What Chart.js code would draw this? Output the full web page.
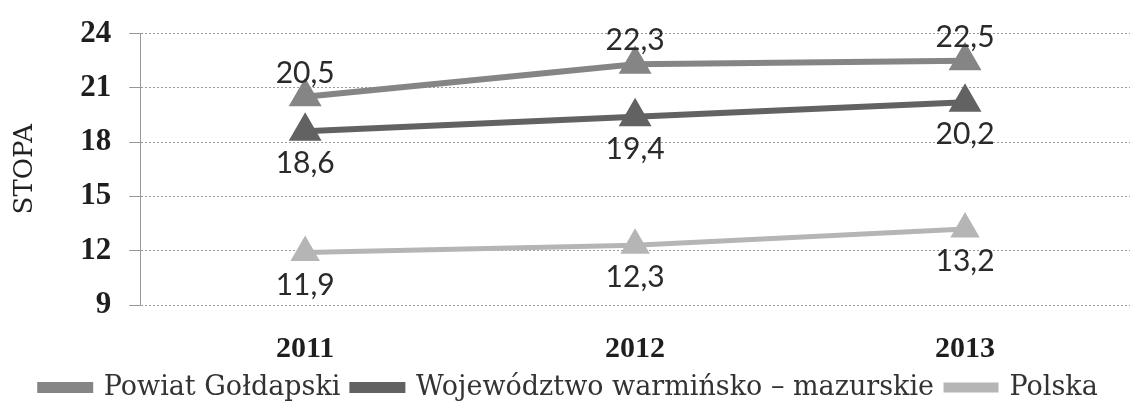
<!DOCTYPE html>
<html>
<head>
<meta charset="utf-8">
<script src="https://cdn.jsdelivr.net/npm/chart.js@4/dist/chart.umd.min.js"></script>
<style>
  html, body { margin: 0; padding: 0; background: #fff; }
  #wrap { width: 1137px; height: 403px; }
</style>
</head>
<body>
<div id="wrap"><canvas id="myChart" width="1137" height="403"></canvas></div>
<script>
const years = ["2011", "2012", "2013"];
const powiat = [20.5, 22.3, 22.5];
const wojewodztwo = [18.6, 19.4, 20.2];
const polska = [11.9, 12.3, 13.2];
const yTicks = [9, 12, 15, 18, 21, 24];

// where each series puts its value labels
const labelPos = ["above", "below", "below"];

const pointLabels = {
  id: "pointLabels",
  afterDatasetsDraw(chart) {
    const ctx = chart.ctx;
    ctx.save();
    ctx.font = "30px Lato";
    ctx.fillStyle = "#2a2a2a";
    ctx.textAlign = "center";
    ctx.textBaseline = "alphabetic";
    chart.data.datasets.forEach((ds, i) => {
      const meta = chart.getDatasetMeta(i);
      meta.data.forEach((pt, j) => {
        let txt = ds.data[j].toFixed(1).replace(".", ",");
        if (labelPos[i] == "above") {
          ctx.fillText(txt, pt.x, pt.y - 14);
        } else {
          ctx.fillText(txt, pt.x, pt.y + 42);
        }
      });
    });
    ctx.restore();
  }
};

new Chart(document.getElementById("myChart"), {
  type: "line",
  data: {
    labels: years,
    datasets: [
      {
        label: "Powiat Gołdapski",
        data: powiat,
        borderColor: "#858585",
        backgroundColor: "#858585",
        borderWidth: 6,
        pointStyle: "triangle",
        pointRadius: 13,
      },
      {
        label: "Województwo warmińsko – mazurskie",
        data: wojewodztwo,
        borderColor: "#626262",
        backgroundColor: "#626262",
        borderWidth: 6,
        pointStyle: "triangle",
        pointRadius: 13,
      },
      {
        label: "Polska",
        data: polska,
        borderColor: "#b5b5b5",
        backgroundColor: "#b5b5b5",
        borderWidth: 5,
        pointStyle: "triangle",
        pointRadius: 12,
      },
    ],
  },
  options: {
    responsive: false,
    animation: false,
    layout: { autoPadding: false, padding: { left: 8, right: 7, top: 14, bottom: 0 } },
    plugins: {
      legend: {
        position: "bottom",
        maxHeight: 41,
        labels: {
          font: { family: "DejaVu Serif", size: 27 },
          color: "#333",
          boxWidth: 50,
          boxHeight: 5,
          padding: 12,
        },
      },
      tooltip: { enabled: false },
    },
    scales: {
      x: {
        offset: true,
        afterFit: (scale) => {
          scale.height = 57;
        },
        grid: { display: false, drawTicks: false },
        border: { display: false },
        ticks: {
          font: { family: "Liberation Serif", size: 30, weight: "bold" },
          color: "#1e1e1e",
          padding: 26,
        },
      },
      y: {
        min: 9,
        max: 24,
        afterBuildTicks: (axis) => {
          axis.ticks = yTicks.map((v) => ({ value: v }));
        },
        grid: {
          color: "#999",
          tickLength: 11,
          tickColor: "#999",
        },
        border: { display: true, dash: [2, 2], color: "#999" },
        ticks: {
          font: { family: "Liberation Serif", size: 31, weight: "bold", lineHeight: 1 },
          color: "#1e1e1e",
          padding: 18,
        },
        title: {
          display: true,
          text: "STOPA",
          font: { family: "DejaVu Serif", size: 26 },
          color: "#222",
          padding: { top: 2, bottom: 21 },
        },
      },
    },
  },
  plugins: [pointLabels],
});
</script>
</body>
</html>
